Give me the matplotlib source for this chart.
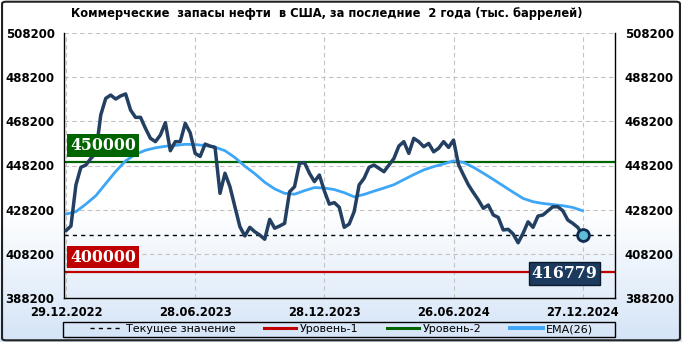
import numpy as np
import matplotlib
matplotlib.use("Agg")
import matplotlib.pyplot as plt
from matplotlib.lines import Line2D
from matplotlib.patches import Rectangle, FancyBboxPatch
from matplotlib.colors import LinearSegmentedColormap

# ---------------- data ----------------
title = "Коммерческие  запасы нефти  в США, за последние  2 года (тыс. баррелей)"
stocks = [
    418700, 420800, 439400, 447400, 448400, 451400, 453700, 471100, 478600, 480100,
    478300, 479700, 480600, 473300, 470000, 470000, 465000, 460500, 459000, 462000,
    467600, 454900, 459000, 459000, 467300, 463000, 453700, 452300, 457900, 457000,
    456400, 435600, 444700, 438600, 429500, 420500, 416300, 420200, 418200, 416700,
    414800, 423800, 419800, 420800, 422000, 436300, 438600, 449200, 449500, 444700,
    440900, 443900, 436700, 430700, 431400, 429300, 420200, 421700, 427300, 439400,
    442400, 447400, 448400, 446900, 445400, 448400, 451400, 457000, 459000, 453700,
    460500, 459000, 456700, 458200, 454400, 456000, 459000, 456400, 459700, 448600,
    443900, 439400, 435900, 432600, 428800, 430300, 425800, 424700, 419000, 419300,
    417200, 413200, 417500, 422700, 420200, 425300, 425800, 427700, 429500, 429500,
    427700, 423500, 422000, 420200, 416779,
]
ema_idx = list(range(0, 105, 2))
ema26 = [
    426200, 427300, 430700, 434500, 440000, 445500, 450300, 453300, 455100, 456200,
    456900, 457300, 457800, 457700, 457200, 456500, 454900, 451800, 447900, 444500,
    440600, 437600, 435600, 435200, 436800, 438200, 438000, 437300, 435900, 434000,
    435100, 436600, 438000, 439500, 441800, 444100, 446200, 447700, 448900, 450300,
    449600, 447400, 444700, 441900, 439000, 436100, 433300, 431800, 431000, 430500,
    430000, 429200, 427700,
]
level1 = 400000
level2 = 450000
current = stocks[-1]
x_tick_idx = [0, 26, 52, 78, 104]
x_tick_labels = ["29.12.2022", "28.06.2023", "28.12.2023", "26.06.2024", "27.12.2024"]
y_ticks = list(range(388200, 508201, 20000))
y_tick_labels = [str(v) for v in y_ticks]
legend_labels = ["Текущее значение", "Уровень-1", "Уровень-2", "EMA(26)"]

# ---------------- style ----------------
C_MAIN = "#233f61"
C_EMA = "#3ea6f6"
C_GREEN = "#006400"
C_RED = "#c00000"
C_NAVY = "#1c3a5e"

W, H, DPI = 682, 342, 100
fig = plt.figure(figsize=(W / DPI, H / DPI), dpi=DPI)

# background gradient
bg = fig.add_axes([0, 0, 1, 1], zorder=-10)
grad = np.ones((H, 1))
yy = np.arange(H)
start = 210
grad[start:, 0] = 1 - (yy[start:] - start) / (H - start)
cmap = LinearSegmentedColormap.from_list("bg", ["#d4e4f7", "#ffffff"])
bg.imshow(grad, aspect="auto", cmap=cmap, vmin=0, vmax=1, extent=[0, 1, 0, 1])
bg.set_xlim(0, 1); bg.set_ylim(0, 1)
bg.axis("off")
fig.patches.append(FancyBboxPatch((0.003, 0.005), 0.994, 0.99,
                                  boxstyle="round,pad=0,rounding_size=0.006",
                                  transform=fig.transFigure, fill=False,
                                  edgecolor="#222222", lw=1.5))

left, right, top, bottom = 64.3, 615, 33, 298
ax = fig.add_axes([left / W, 1 - bottom / H, (right - left) / W, (bottom - top) / H])
ax.set_facecolor("none")

x = np.arange(len(stocks))
ax.set_xlim(-0.34, 110.5)
ax.set_ylim(y_ticks[0], y_ticks[-1])

ax.set_yticks(y_ticks)
ax.set_yticklabels(y_tick_labels)
ax.set_xticks(x_tick_idx)
ax.set_xticklabels(x_tick_labels)
ax.tick_params(axis="y", length=0, labelsize=8.5, left=True, right=True,
               labelleft=True, labelright=True, pad=7)
ax.tick_params(axis="x", length=0, labelsize=8.3, pad=6)
for lab in ax.get_xticklabels() + ax.get_yticklabels():
    lab.set_fontweight("bold")
for lab in ax.yaxis.get_majorticklabels():
    lab.set_fontweight("bold")
for t in ax.yaxis.get_major_ticks():
    t.label2.set_fontweight("bold")
ax.grid(True, color="#c4c4c4", lw=0.8, ls=(0, (4, 3)))
ax.set_axisbelow(True)
for s in ["left", "right", "bottom"]:
    ax.spines[s].set_color("black")
    ax.spines[s].set_linewidth(1.0)
ax.spines["top"].set_visible(False)

ax.axhline(level2, color=C_GREEN, lw=1.6, zorder=2)
ax.axhline(level1, color=C_RED, lw=1.6, zorder=2)
ax.axhline(current, color="black", lw=1.0, ls=(0, (3, 3)), zorder=2)

ax.plot(ema_idx, ema26, color=C_EMA, lw=2.0, zorder=3, solid_capstyle="round")
ax.plot(x, stocks, color=C_MAIN, lw=2.5, zorder=4, solid_joinstyle="round",
        solid_capstyle="round")
ax.plot(x[-1], stocks[-1], "o", ms=8.5, mfc="#5fbfd8", mec="#0f2b50", mew=2.0, zorder=5)

lab_kw = dict(fontsize=11.3, fontweight="bold", family="DejaVu Serif", color="white",
              ha="left", va="bottom", zorder=6, textcoords="offset points")
ax.annotate(f"{level2}", xy=(0.8, level2), xytext=(0, 5.4), **lab_kw,
            bbox=dict(boxstyle="square,pad=0.17", fc=C_GREEN, ec="none"))
ax.annotate(f"{level1}", xy=(0.8, level1), xytext=(0, 4.4), **lab_kw,
            bbox=dict(boxstyle="square,pad=0.17", fc="#c00000", ec="none"))
ax.text(0.968, 0.092, f"{current}", transform=ax.transAxes, fontsize=11.3,
        fontweight="bold", family="DejaVu Serif", color="white", ha="right",
        va="center", zorder=6,
        bbox=dict(boxstyle="square,pad=0.17", fc=C_NAVY, ec="#0b1a2c", lw=1))

fig.text(326.5 / W, 1 - 14 / H, title, ha="center", va="center",
         fontsize=8.3, fontweight="bold")

# legend
fig.patches.append(Rectangle((63.3 / W, 1 - 336.7 / H), (615 - 63.3) / W, 15 / H,
                             transform=fig.transFigure, fill=False,
                             edgecolor="black", lw=1.0))
handles = [
    Line2D([], [], color="black", lw=1.0, ls=(0, (3, 3))),
    Line2D([], [], color=C_RED, lw=2.2),
    Line2D([], [], color=C_GREEN, lw=2.2),
    Line2D([], [], color=C_EMA, lw=2.8),
]
fig.legend(handles, legend_labels, loc="center", bbox_to_anchor=(341.5 / W, 1 - 329.2 / H),
           ncol=4, frameon=False, fontsize=8, handlelength=2.9, handletextpad=0.3,
           columnspacing=2.6, borderpad=0, borderaxespad=0)

fig.savefig("out.png", dpi=DPI)
